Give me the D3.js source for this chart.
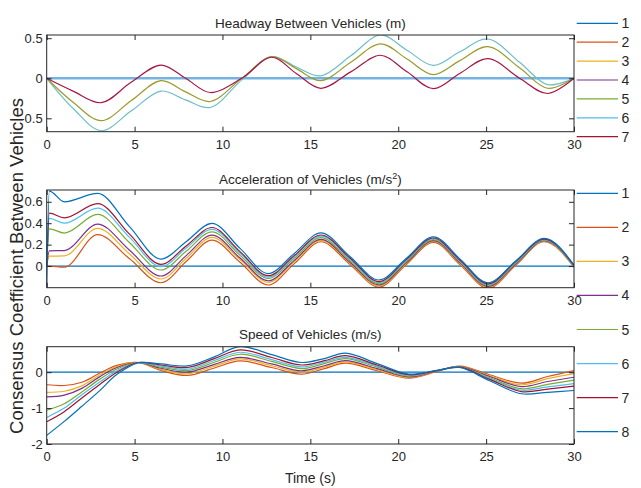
<!DOCTYPE html>
<html>
<head>
<meta charset="utf-8">
<script src="https://cdn.jsdelivr.net/npm/d3@7"></script>
<style>
  body { margin: 0; background: #fff; }
  text { font-family: "Liberation Sans", Arial, sans-serif; fill: #262626; }
</style>
</head>
<body>
<script>
// ---- headway between vehicles (m) ----
var tHead = [0, 1.5, 3.1, 4.8, 6.5, 7.9, 9.3, 11.1, 12.8, 14.2, 15.6, 17.3, 19.0, 20.5, 22.0, 23.5, 25.1, 26.9, 28.5, 30];
var head0 = [0, 0, 0, 0, 0, 0, 0, 0, 0, 0, 0, 0, 0, 0, 0, 0, 0, 0, 0, 0];
var head5 = [0, -0.3, -0.53, -0.28, -0.03, -0.17, -0.29, 0.0, 0.27, 0.12, -0.03, 0.2, 0.43, 0.24, 0.045, 0.22, 0.395, 0.13, -0.125, 0];
var head6 = [0, -0.375, -0.655, -0.41, -0.16, -0.27, -0.365, -0.02, 0.27, 0.14, 0.03, 0.28, 0.54, 0.35, 0.16, 0.33, 0.49, 0.2, -0.08, 0];
var head7 = [0, -0.16, -0.305, -0.05, 0.165, 0.0, -0.178, 0.0, 0.262, 0.06, -0.125, 0.08, 0.287, 0.08, -0.13, 0.06, 0.245, 0.0, -0.19, 0];

// ---- acceleration of vehicles (m/s^2) ----
var tAcc = [0, 0.15, 1.0, 2.9, 4.7, 6.5, 7.95, 9.4, 11.0, 12.6, 14.1, 15.6, 17.25, 18.9, 20.45, 22.0, 23.55, 25.1, 26.7, 28.3, 30];
var acc1 = [0, 0, 0, 0, 0, 0, 0, 0, 0, 0, 0, 0, 0, 0, 0, 0, 0, 0, 0, 0, 0];
var acc2 = [0, 0.0, -0.01, 0.294, 0.07, -0.156, 0.045, 0.243, 0.035, -0.177, 0.025, 0.227, 0.015, -0.196, 0.013, 0.221, 0.007, -0.208, 0.01, 0.227, -0.01];
var acc3 = [0, 0.092, 0.095, 0.352, 0.115, -0.121, 0.075, 0.268, 0.06, -0.152, 0.045, 0.24, 0.025, -0.185, 0.022, 0.23, 0.016, -0.198, 0.017, 0.232, -0.005];
var acc4 = [0, 0.142, 0.145, 0.392, 0.15, -0.093, 0.1, 0.289, 0.075, -0.137, 0.055, 0.25, 0.035, -0.175, 0.03, 0.238, 0.025, -0.19, 0.022, 0.237, 0];
var acc5 = [0, 0.348, 0.308, 0.482, 0.22, -0.037, 0.14, 0.32, 0.1, -0.115, 0.075, 0.265, 0.05, -0.165, 0.04, 0.247, 0.035, -0.18, 0.03, 0.242, 0];
var acc6 = [0, 0.446, 0.4, 0.54, 0.27, -0.006, 0.17, 0.342, 0.12, -0.103, 0.09, 0.28, 0.063, -0.155, 0.05, 0.255, 0.04, -0.173, 0.037, 0.247, 0];
var acc7 = [0, 0.495, 0.45, 0.583, 0.3, 0.016, 0.19, 0.36, 0.135, -0.09, 0.1, 0.29, 0.075, -0.145, 0.06, 0.262, 0.05, -0.166, 0.045, 0.252, 0.005];
var acc8 = [-0.2, 0.7, 0.6, 0.678, 0.37, 0.065, 0.23, 0.398, 0.165, -0.07, 0.12, 0.31, 0.09, -0.13, 0.07, 0.273, 0.06, -0.156, 0.05, 0.258, 0.01];

// ---- speed of vehicles (m/s) ----
var tSpd = [0, 1, 2, 3, 4, 5.2, 6.5, 8, 9.5, 11, 12.8, 14.5, 15.8, 17, 18.8, 20.6, 22.2, 23.5, 25.2, 27, 28.5, 30];
var spd1 = [0, 0, 0, 0, 0, 0, 0, 0, 0, 0, 0, 0, 0, 0, 0, 0, 0, 0, 0, 0, 0, 0];
var spd2 = [-0.35, -0.37, -0.28, -0.03, 0.19, 0.27, 0.05, -0.09, 0.11, 0.314, 0.13, -0.055, 0.1, 0.25, 0.04, -0.165, 0.02, 0.17, -0.07, -0.305, -0.12, 0.045];
var spd3 = [-0.56, -0.53, -0.38, -0.08, 0.16, 0.27, 0.08, -0.045, 0.16, 0.37, 0.18, 0.0, 0.14, 0.285, 0.07, -0.15, 0.03, 0.16, -0.1, -0.35, -0.18, -0.04];
var spd4 = [-0.69, -0.64, -0.45, -0.13, 0.13, 0.27, 0.11, 0.0, 0.21, 0.415, 0.23, 0.04, 0.18, 0.32, 0.1, -0.13, 0.035, 0.155, -0.12, -0.4, -0.26, -0.14];
var spd5 = [-1.06, -0.88, -0.55, -0.2, 0.09, 0.27, 0.14, 0.045, 0.27, 0.5, 0.3, 0.1, 0.24, 0.38, 0.14, -0.11, 0.04, 0.15, -0.155, -0.46, -0.34, -0.22];
var spd6 = [-1.26, -1.0, -0.63, -0.28, 0.04, 0.27, 0.17, 0.083, 0.32, 0.555, 0.35, 0.15, 0.28, 0.415, 0.17, -0.09, 0.045, 0.145, -0.18, -0.5, -0.41, -0.32];
var spd7 = [-1.38, -1.1, -0.72, -0.35, 0.0, 0.27, 0.2, 0.13, 0.37, 0.62, 0.41, 0.2, 0.32, 0.46, 0.2, -0.07, 0.045, 0.14, -0.2, -0.54, -0.47, -0.39];
var spd8 = [-1.76, -1.37, -0.95, -0.52, -0.06, 0.26, 0.23, 0.175, 0.42, 0.71, 0.49, 0.27, 0.38, 0.53, 0.24, -0.05, 0.05, 0.13, -0.24, -0.6, -0.56, -0.51];

var xTicks = [0, 5, 10, 15, 20, 25, 30];
var legendHead = ['1', '2', '3', '4', '5', '6', '7'];
var legendVeh = ['1', '2', '3', '4', '5', '6', '7', '8'];

var colors = ['#0072BD', '#D95319', '#EDB120', '#7E2F8E', '#77AC30', '#4DBEEE', '#A2142F', '#0072BD'];

var svg = d3.select('body').append('svg')
  .attr('width', 641)
  .attr('height', 488);

var x = d3.scaleLinear().domain([0, 30]).range([46.7, 574]);

function series(t, v, color, width) {
  return { pts: t.map(function(d, i) { return [d, v[i]]; }), color: color, width: width || 1.2 };
}

var panels = [
  { top: 35, bottom: 131.7, domain: [-0.667, 0.54], ticks: [-0.5, 0, 0.5],
    curve: d3.curveCatmullRom.alpha(0.5),
    title: 'Headway Between Vehicles (m)', titleY: 27.5,
    lines: [
      series(tHead, head0, '#72B3E2', 2.4),
      series(tHead, head6, '#6BBEC8'),
      series(tHead, head5, '#9A9B2C'),
      series(tHead, head7, '#A51846')
    ] },
  { top: 190, bottom: 287.7, domain: [-0.202, 0.71], ticks: [0, 0.2, 0.4, 0.6],
    curve: d3.curveMonotoneX,
    title: 'Acceleration of Vehicles (m/s', sup: '2', titleY: 183.5,
    lines: [acc1, acc2, acc3, acc4, acc5, acc6, acc7, acc8].map(function(v, i) {
      return series(tAcc, v, colors[i]);
    }) },
  { top: 346.7, bottom: 444, domain: [-2, 0.71], ticks: [-2, -1, 0],
    curve: d3.curveCatmullRom.alpha(0.5),
    title: 'Speed of Vehicles (m/s)', titleY: 338.5,
    lines: [spd1, spd2, spd3, spd4, spd5, spd6, spd7, spd8].map(function(v, i) {
      return series(tSpd, v, colors[i]);
    }) }
];

panels.forEach(function(p, pi) {
  var y = d3.scaleLinear().domain(p.domain).range([p.bottom, p.top]);
  var g = svg.append('g');

  svg.append('clipPath').attr('id', 'clip' + pi)
    .append('rect')
      .attr('x', x(0)).attr('y', p.top)
      .attr('width', x(30) - x(0)).attr('height', p.bottom - p.top);

  var line = d3.line()
    .x(function(d) { return x(d[0]); })
    .y(function(d) { return y(d[1]); })
    .curve(p.curve);

  g.append('g').attr('clip-path', 'url(#clip' + pi + ')')
    .selectAll('path')
    .data(p.lines)
    .enter().append('path')
      .attr('d', function(d) { return line(d.pts); })
      .attr('fill', 'none')
      .attr('stroke', function(d) { return d.color; })
      .attr('stroke-width', function(d) { return d.width; });

  // axes, ticks pointing inwards on all four sides
  g.append('g')
    .attr('transform', 'translate(0,' + p.bottom + ')')
    .call(d3.axisBottom(x).tickValues(xTicks).tickSize(-5).tickPadding(8));
  g.append('g')
    .attr('transform', 'translate(0,' + p.top + ')')
    .call(d3.axisTop(x).tickValues(xTicks).tickSize(-5).tickFormat(''));
  g.append('g')
    .attr('transform', 'translate(' + x(0) + ',0)')
    .call(d3.axisLeft(y).tickValues(p.ticks).tickSize(-5).tickPadding(4).tickFormat(function(d) { return String(d); }));
  g.append('g')
    .attr('transform', 'translate(' + x(30) + ',0)')
    .call(d3.axisRight(y).tickValues(p.ticks).tickSize(-5).tickFormat(''));

  g.selectAll('.domain').remove();
  g.selectAll('.tick line').attr('stroke', '#262626');
  g.selectAll('.tick text')
    .style('font-size', '13px')
    .style('font-family', '"Liberation Sans", Arial, sans-serif')
    .attr('fill', '#262626');

  g.append('rect')
    .attr('x', x(0)).attr('y', p.top)
    .attr('width', x(30) - x(0)).attr('height', p.bottom - p.top)
    .attr('fill', 'none')
    .attr('stroke', '#262626')
    .attr('stroke-width', 1);

  var title = g.append('text')
    .attr('x', (x(0) + x(30)) / 2)
    .attr('y', p.titleY)
    .attr('text-anchor', 'middle')
    .style('font-size', '13.5px')
    .text(p.title);
  if (p.sup) {
    title.append('tspan').attr('dy', -5).style('font-size', '9px').text(p.sup);
    title.append('tspan').attr('dy', 5).text(')');
  }
});

// legends
function legend(labels, y0, step, cols) {
  var lg = svg.append('g');
  var item = lg.selectAll('g')
    .data(labels)
    .enter().append('g')
      .attr('transform', function(d, i) { return 'translate(0,' + (y0 + i * step) + ')'; });
  item.append('line')
    .attr('x1', 576.7).attr('x2', 618)
    .attr('stroke', function(d, i) { return cols[i]; })
    .attr('stroke-width', 1.2);
  item.append('text')
    .attr('x', 621.5)
    .attr('dy', '0.36em')
    .style('font-size', '14px')
    .text(function(d) { return d; });
}
legend(legendHead, 23.3, 18.9, colors);
legend(legendVeh, 193.3, 34.05, colors);

// shared labels
svg.append('text')
  .attr('transform', 'translate(23,266) rotate(-90)')
  .attr('text-anchor', 'middle')
  .style('font-size', '18.5px')
  .text('Consensus Coefficient Between Vehicles');

svg.append('text')
  .attr('x', 310.3)
  .attr('y', 483)
  .attr('text-anchor', 'middle')
  .style('font-size', '14px')
  .text('Time (s)');
</script>
</body>
</html>
